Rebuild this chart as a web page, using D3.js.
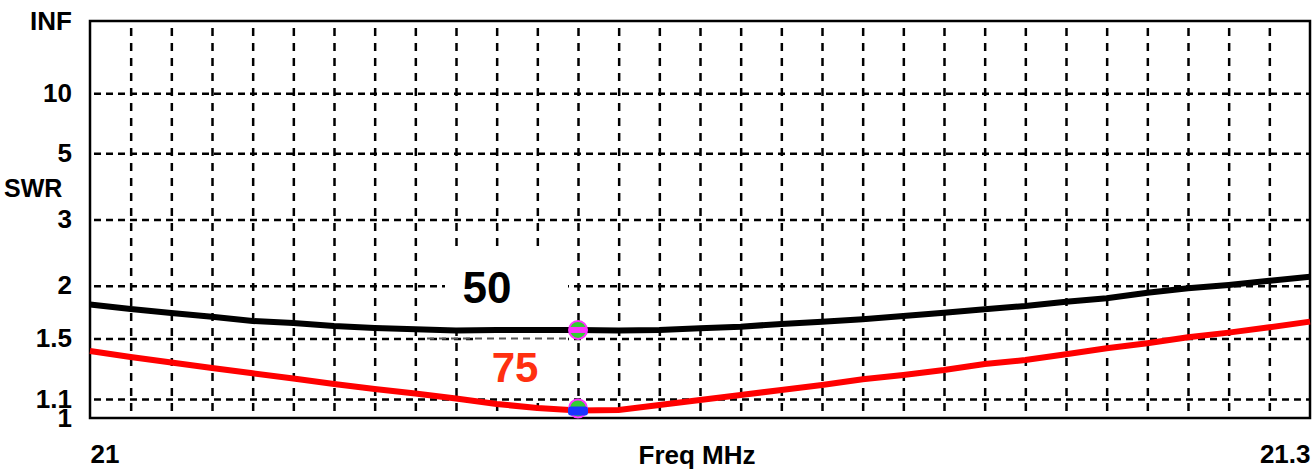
<!DOCTYPE html>
<html>
<head>
<meta charset="utf-8">
<script src="https://cdn.jsdelivr.net/npm/d3@7/dist/d3.min.js"></script>
<style>
html,body{margin:0;padding:0;background:#fff;}
svg{display:block;}
text{font-family:"Liberation Sans",Arial,sans-serif;font-weight:bold;}
</style>
</head>
<body>
<svg id="chart" width="1314" height="476"></svg>
<script>
// ---- data ----
const freqs = [21.00,21.01,21.02,21.03,21.04,21.05,21.06,21.07,21.08,21.09,21.10,
               21.11,21.12,21.13,21.14,21.15,21.16,21.17,21.18,21.19,21.20,
               21.21,21.22,21.23,21.24,21.25,21.26,21.27,21.28,21.29,21.30];
const swr50 = [1.80,1.757,1.719,1.685,1.647,1.629,1.603,1.586,1.575,1.565,1.570,
               1.570,1.570,1.565,1.570,1.584,1.597,1.621,1.641,1.662,1.691,
               1.722,1.754,1.786,1.828,1.863,1.922,1.970,2.008,2.057,2.105];
const swr75 = [1.406,1.363,1.325,1.288,1.254,1.221,1.187,1.158,1.132,1.103,1.073,
               1.052,1.039,1.041,1.068,1.095,1.123,1.152,1.181,1.216,1.243,
               1.275,1.315,1.342,1.382,1.426,1.464,1.510,1.548,1.592,1.641];
const swrTicks = [Infinity,10,5,3,2,1.5,1.1,1];
const swrTickLabels = ["INF","10","5","3","2","1.5","1.1","1"];
const xGridTicks = d3.range(1,30).map(i => 21 + i*0.01);
const xTickValues = [21, 21.3];
const xTickLabels = ["21","21.3"];
const markerFreq = 21.12;
const markerSwr50 = 1.57;
const markerSwr75 = 1.039;
const seriesLabels = ["50","75"];

// ---- layout ----
const L = 90, R = 1310, T = 21, B = 418;
const svg = d3.select("#chart");

const rho = s => (s === Infinity ? 1 : (s - 1) / (s + 1));
const x = d3.scaleLinear().domain([21, 21.3]).range([L, R]);
const yR = d3.scaleLinear().domain([0, 1]).range([B, T]);
const y = s => yR(rho(s));

// vertical grid
const gx = svg.append("g").attr("transform", `translate(0,${T})`)
  .call(d3.axisBottom(x).tickValues(xGridTicks).tickSize(B - T).tickFormat(""));
gx.select(".domain").remove();
gx.selectAll("line").attr("stroke", "#000").attr("stroke-width", 2.5)
  .attr("stroke-dasharray", "8,7").attr("stroke-dashoffset", -7);

// horizontal grid
const gridRho = swrTicks.slice(1, -1).map(rho);
const gy = svg.append("g").attr("transform", `translate(${L},0)`)
  .call(d3.axisRight(yR).tickValues(gridRho).tickSize(R - L).tickFormat(""));
gy.select(".domain").remove();
gy.selectAll("line").attr("stroke", "#000").attr("stroke-width", 2.5)
  .attr("stroke-dasharray", "7,5").attr("stroke-dashoffset", -4);

// white label boxes
svg.append("rect").attr("x", 445).attr("y", 248).attr("width", 123).attr("height", 78).attr("fill", "#fff");
svg.append("rect").attr("x", 475).attr("y", 326).attr("width", 93).attr("height", 70).attr("fill", "#fff");
// remnant of 1.5 gridline through box
svg.append("line").attr("x1", 427).attr("x2", 568).attr("y1", y(1.5)).attr("y2", y(1.5))
  .attr("stroke", "#555").attr("stroke-width", 2).attr("stroke-dasharray", "7,5");

// frame
svg.append("rect").attr("x", L).attr("y", T).attr("width", R - L).attr("height", B - T)
  .attr("fill", "none").attr("stroke", "#000").attr("stroke-width", 2.5);

// curves
const line = d3.line().x((d, i) => x(freqs[i])).y(d => y(d));
svg.append("path").datum(swr50).attr("d", line).attr("fill", "none")
  .attr("stroke", "#000").attr("stroke-width", 6);
svg.append("path").datum(swr75).attr("d", line).attr("fill", "none")
  .attr("stroke", "#ff0000").attr("stroke-width", 6);

// markers
const mx = x(markerFreq);
const m1 = svg.append("g").attr("transform", `translate(${mx},${y(markerSwr50)})`);
m1.append("circle").attr("r", 9).attr("fill", "#33cc33").attr("stroke", "#ff33ff").attr("stroke-width", 2);
m1.append("rect").attr("x", -8).attr("y", -3).attr("width", 16).attr("height", 6).attr("fill", "#ff33ff");
const m2 = svg.append("g").attr("transform", `translate(${mx},${y(markerSwr75)})`);
m2.append("circle").attr("r", 9).attr("cy", -2).attr("fill", "#33cc33").attr("stroke", "#ff33ff").attr("stroke-width", 2);
m2.append("rect").attr("x", -10).attr("y", -4).attr("width", 20).attr("height", 9).attr("rx", 3).attr("fill", "#1a33ff");

// y labels
const gyl = svg.append("g").attr("transform", `translate(${L},0)`)
  .call(d3.axisLeft(yR).tickValues(swrTicks.map(rho)).tickSize(0).tickPadding(18)
    .tickFormat((d, i) => swrTickLabels[i]));
gyl.select(".domain").remove();
gyl.selectAll("text").attr("font-size", 26).attr("fill", "#000")
  .attr("font-family", "'Liberation Sans',Arial,sans-serif").attr("font-weight", "bold");

svg.append("text").attr("x", 4).attr("y", 197).attr("font-size", 25).attr("fill", "#000").text("SWR");

// x labels
const gxl = svg.append("g").attr("transform", `translate(0,${B})`)
  .call(d3.axisBottom(x).tickValues(xTickValues).tickSize(0).tickPadding(27)
    .tickFormat((d, i) => xTickLabels[i]));
gxl.select(".domain").remove();
gxl.selectAll("text").attr("font-size", 26).attr("fill", "#000")
  .attr("font-family", "'Liberation Sans',Arial,sans-serif").attr("font-weight", "bold")
  .attr("text-anchor", (d, i) => i === 0 ? "start" : "end");

svg.append("text").attr("x", 697).attr("y", 464).attr("text-anchor", "middle")
  .attr("font-size", 26).attr("fill", "#000").text("Freq MHz");

// series labels
svg.append("text").attr("x", 487).attr("y", 303).attr("text-anchor", "middle")
  .attr("font-size", 44).attr("fill", "#000").text(seriesLabels[0]);
svg.append("text").attr("x", 515).attr("y", 382).attr("text-anchor", "middle")
  .attr("font-size", 42).attr("fill", "#ff3010").text(seriesLabels[1]);
</script>
</body>
</html>
